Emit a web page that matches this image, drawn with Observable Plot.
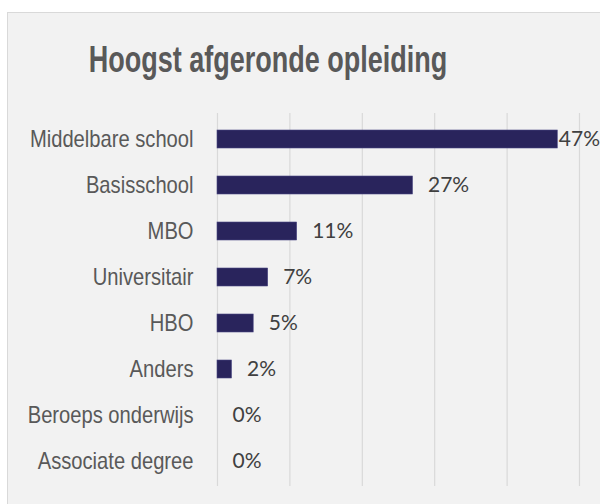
<!DOCTYPE html>
<html>
<head>
<meta charset="utf-8">
<script src="https://cdn.jsdelivr.net/npm/d3@7"></script>
<script src="https://cdn.jsdelivr.net/npm/@observablehq/plot@0.6"></script>
<style>
  html, body { margin: 0; padding: 0; background: #fff; width: 600px; height: 504px; overflow: hidden; }
  #box { position: absolute; left: 7px; top: 12px; width: 640px; height: 540px; background: #f2f2f2; border: 1.5px solid #d9d9d9; box-sizing: border-box; }
  #title { position: absolute; left: 0; top: 41px; width: 536px; text-align: center; font-family: "Liberation Sans", Arial, sans-serif; font-weight: bold; font-size: 37px; line-height: 37px; color: #595959; white-space: nowrap; transform: scaleX(0.73); transform-origin: 268px 50%; }
  #chart { position: absolute; left: 0; top: 0; }
</style>
</head>
<body>
<div id="box"></div>
<div id="title">Hoogst afgeronde opleiding</div>
<div id="chart"></div>
<script>
const categories = ["Middelbare school", "Basisschool", "MBO", "Universitair", "HBO", "Anders", "Beroeps onderwijs", "Associate degree"];
const values = [47, 27, 11, 7, 5, 2, 0, 0];
const xTicks = [0, 10, 20, 30, 40, 50];

const data = categories.map((c, i) => ({cat: c, v: values[i]}));
const maxV = d3.max(values);

const chart = Plot.plot({
  width: 600,
  height: 504,
  marginTop: 113,
  marginBottom: 18,
  marginLeft: 217,
  marginRight: 21,
  style: {background: "transparent", color: "#595959", overflow: "visible"},
  x: {domain: [0, 50], axis: null},
  y: {domain: categories, paddingInner: 0.61, paddingOuter: 0.305, label: null},
  marks: [
    Plot.ruleX(xTicks, {stroke: "#d9d9d9", strokeWidth: 1.2}),
    Plot.barX(data, {y: "cat", x: "v", fill: "#29245c", stroke: "#4a4682", strokeWidth: 0.6}),
    Plot.text(data.filter(d => d.v !== maxV), {y: "cat", x: "v", text: d => d.v + "%", dx: 15, textAnchor: "start", fill: "#404040", fontSize: 21, fontFamily: "Lato, sans-serif"}),
    Plot.text(data.filter(d => d.v === maxV), {y: "cat", x: "v", text: d => d.v + "%", dx: 1, textAnchor: "start", fill: "#404040", fontSize: 21, fontFamily: "Lato, sans-serif"}),
    Plot.axisY({tickSize: 0, tickPadding: 24, fontSize: 24, fontFamily: "'Liberation Sans', Arial, sans-serif", label: null, className: "ylab"})
  ]
});
document.getElementById("chart").appendChild(chart);
// condense the category labels (narrow typeface look)
d3.select(chart).selectAll("g[aria-label='y-axis tick label'] text").each(function() {
  const w = this.getComputedTextLength();
  this.setAttribute("textLength", (w * 0.84).toFixed(1));
  this.setAttribute("lengthAdjust", "spacingAndGlyphs");
});
</script>
</body>
</html>
